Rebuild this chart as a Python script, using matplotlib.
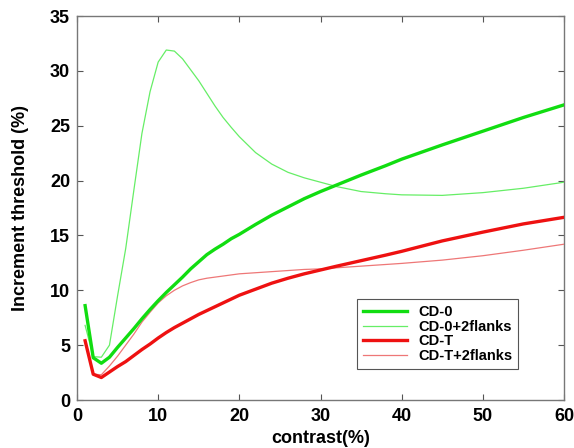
import matplotlib
matplotlib.use("Agg")
import matplotlib.pyplot as plt

contrast = [1, 2, 3, 4, 5, 6, 7, 8, 9, 10, 11, 12, 13, 14, 15, 16, 17, 18, 19, 20,
            22, 24, 26, 28, 30, 32, 35, 38, 40, 45, 50, 55, 60]
cd0 = [8.6, 3.85, 3.35, 3.9, 4.8, 5.65, 6.5, 7.4, 8.25, 9.05, 9.8, 10.5, 11.2, 11.95, 12.6, 13.25, 13.75, 14.2, 14.7, 15.1,
       16.0, 16.85, 17.6, 18.35, 19.0, 19.6, 20.5, 21.35, 21.95, 23.25, 24.5, 25.75, 26.9]
cd0_flanks = [6.8, 3.95, 3.9, 5.0, 9.5, 13.8, 19.1, 24.3, 28.1, 30.8, 31.9, 31.8, 31.1, 30.1, 29.1, 27.95, 26.8, 25.75, 24.85, 24.0,
              22.55, 21.5, 20.75, 20.25, 19.85, 19.45, 19.0, 18.8, 18.7, 18.65, 18.9, 19.3, 19.85]
cdt = [5.4, 2.35, 2.05, 2.55, 3.05, 3.5, 4.05, 4.6, 5.1, 5.65, 6.15, 6.6, 7.0, 7.4, 7.8, 8.15, 8.5, 8.85, 9.2, 9.55,
       10.1, 10.65, 11.1, 11.5, 11.85, 12.2, 12.7, 13.2, 13.55, 14.5, 15.3, 16.05, 16.65]
cdt_flanks = [5.4, 2.35, 2.3, 3.1, 4.0, 5.0, 6.0, 7.1, 8.0, 8.85, 9.5, 10.0, 10.4, 10.7, 10.95, 11.1, 11.2, 11.3, 11.4, 11.5,
              11.6, 11.7, 11.8, 11.9, 11.95, 12.05, 12.2, 12.35, 12.45, 12.75, 13.15, 13.65, 14.2]

xticks = [0, 10, 20, 30, 40, 50, 60]
yticks = [0, 5, 10, 15, 20, 25, 30, 35]

plt.rcParams['font.family'] = ['Liberation Sans', 'DejaVu Sans']
plt.rcParams['font.weight'] = 'bold'

fig = plt.figure(figsize=(5.74, 4.48), dpi=100)
ax = fig.add_axes([77/574, 1-400/448, (564-77)/574, (400-16)/448])

ax.plot(contrast, cd0, color='#11dd11', lw=2.4, label='CD-0', zorder=4)
ax.plot(contrast, cd0_flanks, color='#66ee66', lw=0.9, label='CD-0+2flanks', zorder=3)
ax.plot(contrast, cdt, color='#ee1111', lw=2.4, label='CD-T', zorder=4)
ax.plot(contrast, cdt_flanks, color='#ee7777', lw=0.9, label='CD-T+2flanks', zorder=3)

ax.set_xlim(0, 60)
ax.set_ylim(0, 35)
ax.set_xticks(xticks)
ax.set_yticks(yticks)
ax.tick_params(direction='in', top=True, right=True, length=4, width=0.8,
               color='#555555', labelsize=13)
ax.tick_params(axis='x', pad=6)
ax.tick_params(axis='y', pad=5)
for lab in ax.get_xticklabels() + ax.get_yticklabels():
    lab.set_fontweight('bold')
for s in ax.spines.values():
    s.set_color('#777777')
    s.set_linewidth(1.0)

ax.set_xlabel('contrast(%)', fontsize=13, fontweight='bold', labelpad=3)
ax.set_ylabel('Increment threshold (%)', fontsize=13, fontweight='bold', labelpad=15)

leg = ax.legend(loc='lower right', bbox_to_anchor=(0.906, 0.081), borderaxespad=0,
                fancybox=False, edgecolor='#555555', framealpha=1,
                prop={'size': 10.5, 'weight': 'bold'}, handlelength=3.0,
                handletextpad=0.8, labelspacing=0.05, borderpad=0.4)
leg.get_frame().set_linewidth(0.8)

fig.savefig('out.png', dpi=100)
